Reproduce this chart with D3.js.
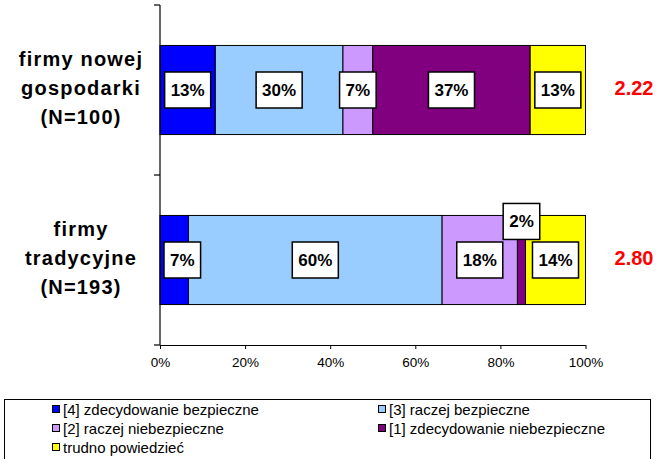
<!DOCTYPE html>
<html>
<head>
<meta charset="utf-8">
<script src="https://cdnjs.cloudflare.com/ajax/libs/d3/7.8.5/d3.min.js"></script>
<style>
  body { margin: 0; background: #fff; }
  svg { display: block; font-family: Arial, "Liberation Sans", sans-serif; }
</style>
</head>
<body>
<div id="chart"></div>
<script>
const categories = ['firmy nowej gospodarki', 'firmy tradycyjne'];
const categoryLines = [['firmy nowej', 'gospodarki', '(N=100)'], ['firmy', 'tradycyjne', '(N=193)']];
const seriesNames = ['[4] zdecydowanie bezpieczne', '[3] raczej bezpieczne', '[2] raczej niebezpieczne',
  '[1] zdecydowanie niebezpieczne', 'trudno powiedzieć'];
const seriesColors = ['#0000ff', '#99ccff', '#cc99ff', '#800080', '#ffff00'];
// percentages per category, same order as seriesNames
const nowejValues = [13, 30, 7, 37, 13];
const tradycyjneValues = [6.7, 59.6, 17.7, 1.9, 14.1];
const meanScores = ['2.22', '2.80'];
const xTicks = [0, 20, 40, 60, 80, 100];

(function () {
  const width = 661;
  const height = 459;
  const svg = d3.select('#chart')
    .append('svg')
    .attr('width', width)
    .attr('height', height);

  const x = d3.scaleLinear().domain([0, 100]).range([160, 585.5]);
  const yCat = d3.scaleBand().domain(categories).range([5, 345]);
  const y = d3.scaleBand().domain(categories).range([5, 345])
    .paddingInner(0.476).paddingOuter(0.238);

  const values = [nowejValues, tradycyjneValues];
  const rows = categories.map((c, i) => {
    let acc = 0;
    return values[i].map((v, j) => {
      const seg = { cat: c, series: j, value: v, x0: acc, x1: acc + v };
      acc += v;
      return seg;
    });
  });

  // bars
  const row = svg.selectAll('.row')
    .data(rows)
    .enter().append('g')
    .attr('class', 'row');

  row.selectAll('rect')
    .data(d => d)
    .enter().append('rect')
    .attr('x', d => x(d.x0))
    .attr('y', d => y(d.cat))
    .attr('width', d => x(d.x1) - x(d.x0))
    .attr('height', y.bandwidth())
    .attr('fill', d => seriesColors[d.series])
    .attr('stroke', '#000')
    .attr('stroke-width', 1);

  // x axis
  const xAxis = svg.append('g')
    .attr('transform', 'translate(0,345)')
    .call(d3.axisBottom(x)
      .tickValues(xTicks)
      .tickFormat(d => d + '%')
      .tickSize(4)
      .tickSizeOuter(0)
      .tickPadding(8));
  xAxis.select('.domain').attr('stroke', '#000').attr('stroke-width', 1.2);
  xAxis.selectAll('.tick line').attr('stroke', '#000');
  xAxis.selectAll('text')
    .style('font-size', '13.5px')
    .style('font-family', 'Arial, "Liberation Sans", sans-serif')
    .attr('fill', '#000');

  // y axis: line plus ticks on category boundaries
  const yAxis = svg.append('g');
  yAxis.append('line')
    .attr('x1', x(0)).attr('x2', x(0))
    .attr('y1', yCat.range()[0]).attr('y2', yCat.range()[1])
    .attr('stroke', '#000').attr('stroke-width', 1.2);
  const bounds = categories.map(c => yCat(c)).concat([yCat.range()[1]]);
  yAxis.selectAll('.ytick')
    .data(bounds)
    .enter().append('line')
    .attr('x1', x(0) - 6).attr('x2', x(0))
    .attr('y1', d => d).attr('y2', d => d)
    .attr('stroke', '#000').attr('stroke-width', 1.2);

  // category labels
  const catLabel = svg.selectAll('.cat-label')
    .data(categories)
    .enter().append('text')
    .attr('class', 'cat-label')
    .attr('text-anchor', 'middle')
    .style('font-size', '20px')
    .style('font-weight', 'bold')
    .style('letter-spacing', '1.2px')
    .attr('fill', '#000');
  catLabel.selectAll('tspan')
    .data((d, i) => categoryLines[i].map((t, k) => ({ t, k, c: d })))
    .enter().append('tspan')
    .attr('x', 81)
    .attr('y', d => yCat(d.c) + yCat.bandwidth() / 2 + 5 + (d.k - 1) * 29)
    .text(d => d.t);

  // value labels in white boxes
  const boxH = 36;
  const labels = row.selectAll('.val')
    .data(d => d)
    .enter().append('g')
    .attr('class', 'val');

  labels.append('text')
    .attr('text-anchor', 'middle')
    .style('font-size', '17px')
    .style('font-weight', 'bold')
    .attr('fill', '#000')
    .text(d => Math.round(d.value) + '%')
    .each(function (d) {
      const w = this.getComputedTextLength() + 12;
      let cx = (x(d.x0) + x(d.x1)) / 2;
      if (cx - w / 2 < x(0) + 4) cx = x(0) + 4 + w / 2;
      // tiny segments get their label lifted over the bar top
      let cy = y(d.cat) + y.bandwidth() / 2;
      if (d.value < 3) cy = y(d.cat) + 6;
      d.box = { cx, cy, w };
      d3.select(this).attr('x', cx).attr('y', cy + 6);
    });

  labels.insert('rect', 'text')
    .attr('x', d => d.box.cx - d.box.w / 2)
    .attr('y', d => d.box.cy - boxH / 2)
    .attr('width', d => d.box.w)
    .attr('height', boxH)
    .attr('fill', '#fff')
    .attr('stroke', '#000')
    .attr('stroke-width', 1.5);

  // mean scores on the right
  svg.selectAll('.mean')
    .data(categories)
    .enter().append('text')
    .attr('class', 'mean')
    .attr('x', 634)
    .attr('y', d => y(d) + y.bandwidth() / 2 + 5)
    .attr('text-anchor', 'middle')
    .style('font-size', '20px')
    .style('font-weight', 'bold')
    .attr('fill', '#ff0000')
    .text((d, i) => meanScores[i]);

  // legend
  const legendBox = svg.append('g');
  legendBox.append('rect')
    .attr('x', 4.5)
    .attr('y', 399.5)
    .attr('width', 646)
    .attr('height', 80)
    .attr('fill', '#fff')
    .attr('stroke', '#000')
    .attr('stroke-width', 1);

  const legend = legendBox.selectAll('.legend')
    .data(seriesNames)
    .enter().append('g')
    .attr('class', 'legend')
    .attr('transform', (d, i) => {
      const col = i % 2;
      const r = Math.floor(i / 2);
      return 'translate(' + (col === 0 ? 52 : 378) + ',' + (409 + r * 19) + ')';
    });

  legend.append('rect')
    .attr('x', 0.5)
    .attr('y', -3.5)
    .attr('width', 7)
    .attr('height', 7)
    .attr('fill', (d, i) => seriesColors[i])
    .attr('stroke', '#000')
    .attr('stroke-width', 1);

  legend.append('text')
    .attr('x', 11)
    .attr('y', 5.5)
    .style('font-size', '15px')
    .attr('fill', '#000')
    .text(d => d);
})();
</script>
</body>
</html>
